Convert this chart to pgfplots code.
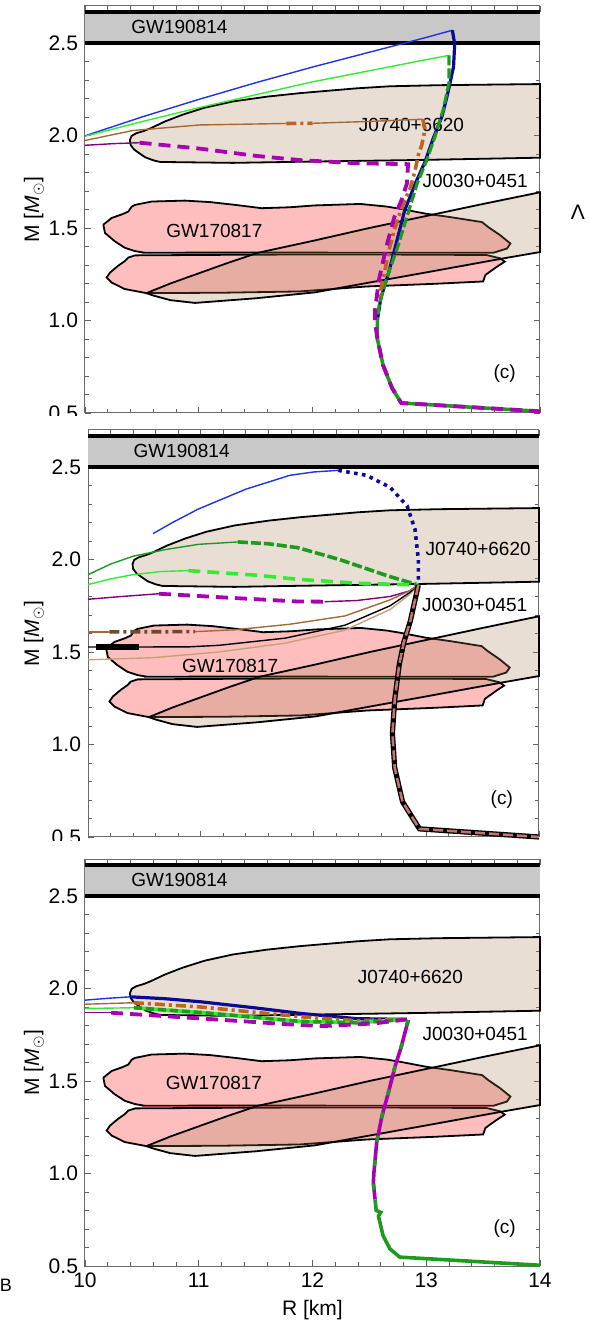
\documentclass[border=0pt]{standalone}
\usepackage{pgfplots}
\pgfplotsset{compat=1.18}
\usepackage{fontspec}
\setmainfont{Liberation Sans}
\definecolor{gwgray}{RGB}{200,200,200}
\definecolor{gwpink}{RGB}{255,190,190}
\definecolor{regbrown}{RGB}{163,123,83}
\definecolor{cblue}{RGB}{30,50,230}
\definecolor{cnavy}{RGB}{10,10,150}
\definecolor{clgreen}{RGB}{50,235,50}
\definecolor{cgreen}{RGB}{30,155,30}
\definecolor{cpurple}{RGB}{128,0,128}
\definecolor{cmagenta}{RGB}{170,0,180}
\definecolor{cbrown}{RGB}{165,105,55}
\definecolor{cbrownd}{RGB}{190,100,30}
\definecolor{cdbrown}{RGB}{110,75,40}
\definecolor{ctan}{RGB}{200,160,120}
\definecolor{crose}{RGB}{195,115,115}
\definecolor{cline}{RGB}{170,70,70}
\pgfplotsset{
  panel/.style={
    scale only axis, width=227.5pt, height=203.5pt, anchor=south west,
    xmin=10, xmax=14, ymin=0.5, ymax=2.7,
    xtick={10,11,12,13,14},
    minor xtick={10.2,10.4,10.6,10.8,11.2,11.4,11.6,11.8,12.2,12.4,12.6,12.8,13.2,13.4,13.6,13.8},
    ytick={0.5,1.0,1.5,2.0,2.5},
    minor ytick={0.6,0.7,0.8,0.9,1.1,1.2,1.3,1.4,1.6,1.7,1.8,1.9,2.1,2.2,2.3,2.4,2.6},
    tick align=inside,
    major tick length=3.2pt, minor tick length=1.8pt,
    axis line style={draw=gray!85!black, line width=0.5pt},
    every tick/.style={draw=gray!75!black, line width=0.4pt},
    tick label style={font=\fontsize{10.5}{10.5}\selectfont},
    /pgf/number format/assume math mode=true,
    yticklabel style={/pgf/number format/.cd, fixed, fixed zerofill, precision=1},
    clip=false,
  },
}
\tikzset{
  lab/.style={font=\fontsize{9.5}{9.5}\selectfont, inner sep=0pt},
  thinl/.style={line width=0.7pt},
  thickl/.style={line width=1.8pt},
  pdash/.style={cmagenta, line width=1.9pt, dash pattern=on 6pt off 3.5pt},
  bdashdot/.style={line width=1.8pt, dash pattern=on 5pt off 2pt on 1.5pt off 2pt},
}
\newcommand{\background}[3]{%
  % GW190814 band
  \addplot[fill=gwgray, draw=none] coordinates {(10,2.5)(14,2.5)(14,2.67)(10,2.67)(10,2.5)};
  \addplot[black, line width=2pt] coordinates {(10,2.5)(14,2.5)};
  \addplot[black, line width=2pt] coordinates {(10,2.67)(14,2.67)};
  % GW170817 lobes
  \addplot[fill=gwpink, draw=black, line width=0.9pt] coordinates {(10.161,1.518)(10.234,1.554)(10.33,1.575)(10.381,1.589)(10.41,1.615)(10.44,1.625)(10.586,1.643)(10.879,1.648)(11.1,1.64)(11.319,1.625)(11.553,1.607)(11.8,1.612)(12.02,1.622)(12.42,1.630)(12.65,1.616)(12.77,1.604)(13.0,1.577)(13.21,1.559)(13.49,1.532)(13.545,1.505)(13.65,1.461)(13.74,1.416)(13.71,1.389)(13.59,1.366)(12.5,1.366)(11.5,1.368)(10.53,1.366)(10.44,1.375)(10.35,1.393)(10.26,1.429)(10.176,1.473)(10.161,1.518)};
  \addplot[fill=gwpink, draw=black, line width=0.9pt] coordinates {(10.44,1.352)(11.5,1.356)(12.5,1.357)(13.53,1.354)(13.65,1.336)(13.69,1.318)(13.62,1.29)(13.56,1.264)(13.52,1.246)(13.50,1.211)(13.06,1.198)(12.48,1.184)(11.89,1.157)(11.2,1.15)(10.54,1.148)(10.35,1.170)(10.234,1.205)(10.19,1.232)(10.22,1.259)(10.29,1.295)(10.35,1.321)(10.38,1.34)(10.44,1.352)};
  \addplot[cline, line width=0.6pt] coordinates {(10.5,1.361)(13.58,1.361)};
  % J0030+0451
  \addplot[fill=regbrown, fill opacity=0.25, draw=black, line width=0.9pt] coordinates {(10.54,1.148)(10.75,1.20)(11.0,1.255)(11.25,1.31)(11.52,1.366)(12.0,1.43)(12.5,1.50)(13.0,1.565)(13.5,1.63)(14.0,1.693)(14.0,1.37)(13.69,1.337)(13.0,1.26)(12.5,1.205)(12.02,1.152)(11.5,1.12)(10.967,1.095)(10.75,1.11)(10.6,1.135)(10.54,1.148)};
  % J0740+6620
  \addplot[fill=regbrown, fill opacity=0.25, draw=black, line width=0.9pt] coordinates {(10.395,1.975)(10.41,1.998)(10.45,2.012)(10.52,2.025)(10.58,2.04)(10.7,2.075)(10.86,2.113)(11.05,2.15)(11.3,2.184)(11.6,2.21)(11.89,2.229)(12.39,2.255)(12.68,2.266)(13.12,2.272)(14,2.278)(14,1.88)(12.97,1.868)(11.89,1.858)(11.3,1.852)(10.66,1.857)(10.60,1.866)(10.53,1.882)(10.48,1.903)(10.43,1.925)(10.40,1.95)(10.395,1.975)};
  % labels
  \node[lab] at (axis cs:10.83,2.588) {GW190814};
  \node[lab] at (axis cs:#1) {J0740+6620};
  \node[lab] at (axis cs:13.43,1.752) {J0030+0451};
  \node[lab] at (axis cs:#2) {GW170817};
  \node[lab] at (axis cs:#3) {(c)};
}
\begin{document}
\begin{tikzpicture}
\useasboundingbox (0,0) rectangle (294.5pt,664.5pt);
% ---------------- Panel 1 ----------------
\begin{axis}[panel, at={(42.5pt,458pt)}, xticklabels={}]
\background{12.87,2.056}{11.137,1.485}{13.69,0.714}
\addplot[cblue, thinl] coordinates {(10,1.998)(10.5,2.1)(11,2.195)(11.5,2.285)(12,2.37)(12.5,2.45)(13,2.53)(13.23,2.569)};
\addplot[cnavy, line width=1.6pt] coordinates {(13.23,2.569)(13.25,2.495)(13.24,2.371)(13.19,2.23)(13.14,2.106)(13.06,1.982)(12.99,1.859)(12.90,1.735)(12.81,1.594)(12.75,1.45)(12.67,1.26)(12.6,1.12)(12.57,1.0)};
\addplot[clgreen, thinl] coordinates {(10,1.996)(10.5,2.075)(11,2.15)(11.5,2.22)(12,2.29)(12.5,2.35)(13,2.41)(13.2,2.433)};
\addplot[cgreen, line width=1.6pt, dash pattern=on 5pt off 1.5pt] coordinates {(13.2,2.433)(13.2,2.283)(13.15,2.141)(13.08,2.0)(13.0,1.86)(12.92,1.74)(12.85,1.6)(12.75,1.40)(12.65,1.223)(12.585,1.08)(12.57,1.0)};
\addplot[cgreen, thickl] coordinates {(12.57,1.0)(12.57,0.902)(12.62,0.759)(12.70,0.634)(12.78,0.554)(14,0.509)};
\addplot[cbrown, thinl] coordinates {(10,1.973)(10.42,2.027)(11.01,2.057)(11.77,2.065)};
\addplot[cbrownd, bdashdot] coordinates {(11.77,2.065)(12.0,2.066)};
\addplot[cbrown, thinl] coordinates {(12.0,2.066)(12.5,2.076)(12.97,2.088)};
\addplot[cbrownd, bdashdot] coordinates {(12.97,2.088)(12.99,2.035)(12.96,1.947)(12.93,1.894)(12.90,1.806)(12.86,1.717)(12.81,1.647)(12.75,1.55)(12.68,1.40)(12.62,1.223)(12.58,1.1)};
\addplot[cpurple, thinl] coordinates {(10,1.947)(10.25,1.956)(10.48,1.961)};
\addplot[pdash] coordinates {(10.48,1.961)(11.01,1.929)(11.5,1.89)(11.89,1.867)(12.39,1.85)(12.84,1.845)(12.83,1.74)(12.78,1.647)(12.72,1.56)(12.65,1.40)(12.585,1.223)(12.55,1.06)(12.55,0.99)(12.57,0.902)(12.62,0.759)(12.70,0.634)(12.78,0.554)(14,0.509)};
\end{axis}
% ---------------- Panel 2 ----------------
\begin{axis}[panel, at={(44pt,246pt)}, width=225.5pt, xticklabels={}]
\background{13.46,2.056}{11.26,1.423}{13.67,0.70}
\addplot[cblue, thinl] coordinates {(10.577,2.14)(10.75,2.2)(10.98,2.273)(11.4,2.38)(11.79,2.455)(12.0,2.473)(12.22,2.482)};
\addplot[cnavy, thickl, dash pattern=on 1.8pt off 2.2pt] coordinates {(12.22,2.482)(12.47,2.455)(12.68,2.39)(12.83,2.29)(12.90,2.164)(12.93,2.0)(12.93,1.864)};
\addplot[cgreen, thinl] coordinates {(10,1.918)(10.2,1.975)(10.40,2.018)(10.7,2.055)(10.98,2.082)(11.33,2.095)};
\addplot[cgreen, thickl, dash pattern=on 5pt off 1.5pt] coordinates {(11.33,2.095)(11.6,2.085)(11.86,2.064)(12.23,2.0)(12.67,1.909)(12.93,1.862)};
\addplot[clgreen, thinl] coordinates {(10,1.864)(10.2,1.895)(10.40,1.918)(10.65,1.935)(10.89,1.94)};
\addplot[clgreen, thickl, dash pattern=on 6pt off 3.5pt] coordinates {(10.89,1.94)(11.5,1.915)(11.86,1.893)(12.38,1.872)(12.93,1.862)};
\addplot[cpurple, thinl] coordinates {(10,1.785)(10.3,1.80)(10.63,1.815)};
\addplot[pdash] coordinates {(10.63,1.815)(11.2,1.795)(11.86,1.773)(12.1,1.772)};
\addplot[cpurple, thinl] coordinates {(12.1,1.772)(12.38,1.778)(12.68,1.80)(12.85,1.83)(12.93,1.862)};
\addplot[ctan, thinl] coordinates {(10,1.458)(10.57,1.469)(11.16,1.50)(11.75,1.548)(12.28,1.618)(12.68,1.73)(12.85,1.81)(12.93,1.862)};
\addplot[black, thinl] coordinates {(10,1.527)(10.45,1.527)(10.9,1.528)(11.16,1.536)(11.75,1.575)(12.28,1.645)(12.68,1.75)(12.85,1.82)(12.93,1.862)};
\addplot[black, line width=2.6pt] coordinates {(10.07,1.527)(10.45,1.527)};
\addplot[cbrown, thinl] coordinates {(10,1.609)(10.19,1.609)};
\addplot[cdbrown, bdashdot] coordinates {(10.19,1.609)(10.95,1.61)};
\addplot[cbrown, thinl] coordinates {(10.95,1.61)(11.3,1.62)(11.79,1.65)(12.28,1.695)(12.68,1.782)(12.85,1.83)(12.93,1.862)};
\addplot[black, line width=2.6pt] coordinates {(12.93,1.862)(12.90,1.78)(12.86,1.67)(12.80,1.55)(12.76,1.43)(12.72,1.24)(12.70,1.06)(12.72,0.875)(12.79,0.69)(12.94,0.544)(14,0.5)};
\addplot[crose, line width=1.3pt, dash pattern=on 5pt off 2pt] coordinates {(12.93,1.862)(12.90,1.78)(12.86,1.67)(12.80,1.55)(12.76,1.43)(12.72,1.24)(12.70,1.06)(12.72,0.875)(12.79,0.69)(12.94,0.544)(14,0.5)};
\end{axis}
% ---------------- Panel 3 ----------------
\begin{axis}[panel, at={(42.5pt,31.5pt)}]
\background{12.86,2.06}{11.134,1.49}{13.69,0.70}
\addplot[cblue, thinl] coordinates {(10,1.937)(10.2,1.947)(10.40,1.955)};
\addplot[cnavy, line width=1.6pt] coordinates {(10.40,1.955)(10.7,1.945)(11.02,1.928)(11.5,1.895)(11.90,1.865)(12.39,1.837)(12.83,1.833)};
\addplot[cbrown, thinl] coordinates {(10,1.915)(10.43,1.923)};
\addplot[cbrownd, bdashdot] coordinates {(10.43,1.923)(11.02,1.90)(11.90,1.847)(12.39,1.826)(12.83,1.833)};
\addplot[clgreen, thinl] coordinates {(10,1.892)(10.43,1.896)};
\addplot[clgreen, thickl] coordinates {(10.43,1.896)(11.02,1.87)(11.90,1.822)(12.39,1.815)(12.83,1.833)};
\addplot[cgreen, thickl, dash pattern=on 4pt off 2pt] coordinates {(10.43,1.896)(11.02,1.87)(11.90,1.822)(12.39,1.815)(12.83,1.833)};
\addplot[cpurple, thinl] coordinates {(10,1.869)(10.23,1.869)};
\addplot[pdash] coordinates {(10.23,1.869)(11.02,1.838)(11.90,1.802)(12.10,1.797)(12.54,1.811)(12.83,1.833)};
\addplot[cmagenta, thickl] coordinates {(12.842,1.830)(12.78,1.684)(12.725,1.577)(12.666,1.434)(12.61,1.309)(12.564,1.166)(12.54,1.005)(12.535,0.95)(12.55,0.86)};
\addplot[cgreen, thickl, dash pattern=on 3pt off 9pt] coordinates {(12.842,1.830)(12.78,1.684)(12.725,1.577)(12.666,1.434)(12.61,1.309)(12.564,1.166)(12.54,1.005)(12.535,0.95)(12.55,0.86)};
\addplot[cgreen, thickl] coordinates {(12.55,0.86)(12.56,0.80)(12.6,0.79)(12.58,0.77)(12.62,0.665)(12.68,0.593)(12.767,0.548)(14,0.504)};
\node[font=\fontsize{10.5}{10.5}\selectfont] at (rel axis cs:0.5,0) [yshift=-22pt] {R [km]};
\end{axis}
% masks for cut tick labels
\fill[white] (0pt,449.5pt) rectangle (41.5pt,456.5pt);
\fill[white] (0pt,235.5pt) rectangle (43pt,244pt);
% y labels
\node[rotate=90, font=\fontsize{10.5}{10.5}\selectfont] at (17pt,559.75pt) {M [\textit{M}$_{\odot}$]};
\node[rotate=90, font=\fontsize{10.5}{10.5}\selectfont] at (17pt,347.75pt) {M [\textit{M}$_{\odot}$]};
\node[rotate=90, font=\fontsize{10.5}{10.5}\selectfont] at (17pt,133.25pt) {M [\textit{M}$_{\odot}$]};
% fragments at the edges
\node[font=\fontsize{10.5}{10.5}\selectfont] at (289pt,558.5pt) {Λ};
\node[font=\fontsize{9}{9}\selectfont, inner sep=0pt] at (3pt,22pt) {B};
\end{tikzpicture}
\end{document}
